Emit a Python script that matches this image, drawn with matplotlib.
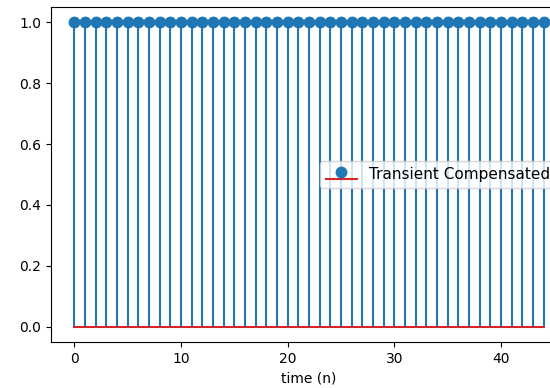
import numpy as np
import matplotlib
matplotlib.use("Agg")
import matplotlib.pyplot as plt

# discrete-time samples of the compensated response
n = list(range(45))
amplitude = [1.0] * 45

fig = plt.figure(figsize=(5.5, 3.88), dpi=100)
ax = fig.add_axes([51 / 550, 46 / 388, 516 / 550, 335 / 388])

markers, stems, base = ax.stem(n, amplitude, label="Transient Compensated")
markers.set_markersize(7.5)
ax.set_xlabel("time (n)")
ax.set_xticks([0, 10, 20, 30, 40])
ax.legend(loc="center left", bbox_to_anchor=(320 / 550, 0.5 * 335 / 388 + 46 / 388),
          bbox_transform=fig.transFigure, borderaxespad=0, fontsize=11)

fig.savefig("out.png", dpi=100)
